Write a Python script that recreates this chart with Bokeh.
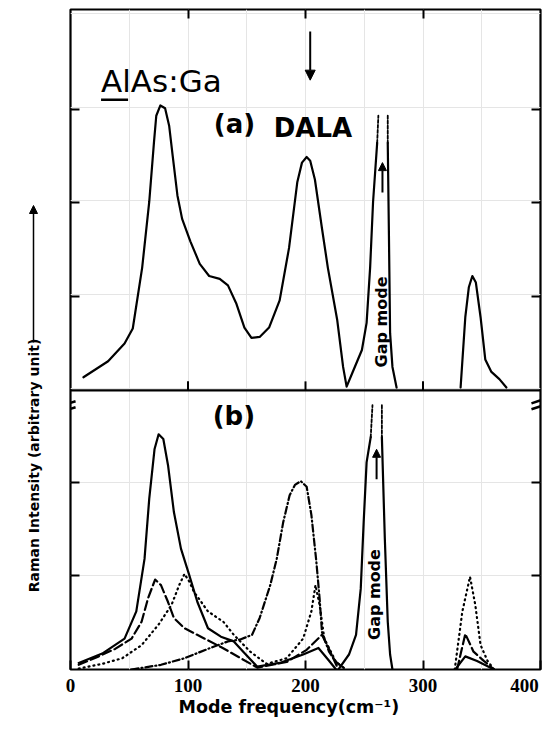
from math import pi
from bokeh.plotting import figure
from bokeh.layouts import row, column
from bokeh.models import Range1d, FixedTicker, LinearAxis, Label, Arrow, NormalHead, Span
from bokeh.embed import file_html
from bokeh.resources import INLINE

FONT = "DejaVu Sans"
TICK_FONT = "Liberation Sans Narrow"

# ---------------- data ----------------
x_ticks = [100, 200, 300]
x_label_ticks = [0, 100, 200, 300, 400]
x_tick_labels = ["0", "100", "200", "300", "400"]
a_y_ticks = [1, 2, 3]
b_y_ticks = [1, 2]

# panel (a) solid spectrum
a_main_x = [11, 32, 46, 53, 61, 67, 71, 73, 76.5, 80.5, 84, 87, 91, 95, 102, 110, 118, 127, 134,
            141, 148, 154, 161, 169, 178, 186, 193, 197, 201, 204, 208, 214, 219, 227, 232, 235,
            240, 248, 252, 255, 257.5, 261]
a_main_y = [0.14, 0.31, 0.50, 0.66, 1.31, 2.01, 2.64, 2.93, 3.04, 3.01, 2.82, 2.50, 2.08, 1.83, 1.59,
            1.35, 1.22, 1.19, 1.12, 0.93, 0.67, 0.56, 0.57, 0.67, 0.96, 1.52, 2.22, 2.43, 2.49, 2.45,
            2.25, 1.73, 1.31, 0.75, 0.25, 0.04, 0.19, 0.43, 0.72, 1.31, 2.01, 2.64]
a_gap_right_x = [270, 271, 272, 274, 277.5]
a_gap_right_y = [2.64, 1.66, 0.61, 0.25, 0.03]
a_gap_tip_left_x = [261, 262]
a_gap_tip_left_y = [2.64, 2.93]
a_gap_tip_right_x = [270, 270]
a_gap_tip_right_y = [2.93, 2.64]
a_last_x = [332, 336, 339, 342, 345, 349, 353, 358, 365, 371]
a_last_y = [0.03, 0.78, 1.10, 1.22, 1.15, 0.78, 0.33, 0.20, 0.12, 0.03]

# panel (b) solid
b_solid_x = [7, 27, 46, 56, 63, 67, 71.5, 75, 79, 83, 88, 94, 101, 108, 117, 128, 139, 147, 159,
             178, 198, 211, 219, 226]
b_solid_y = [0.07, 0.17, 0.33, 0.62, 1.18, 1.82, 2.35, 2.51, 2.46, 2.18, 1.68, 1.29, 1.01, 0.72,
             0.44, 0.35, 0.30, 0.19, 0.03, 0.07, 0.16, 0.23, 0.11, 0.0]
b_gap_left_x = [228.5, 237, 243, 247, 249.5, 252, 255.5]
b_gap_left_y = [0.01, 0.16, 0.37, 0.86, 1.57, 2.21, 2.48]
b_gap_right_x = [265, 267.5, 270, 272, 274]
b_gap_right_y = [2.48, 1.40, 0.51, 0.16, 0.0]
b_gap_tip_left_x = [255.5, 257]
b_gap_tip_left_y = [2.48, 2.82]
b_gap_tip_right_x = [265, 265]
b_gap_tip_right_y = [2.82, 2.48]
b_solid_last_x = [328, 336, 346, 360.5]
b_solid_last_y = [0.01, 0.14, 0.09, 0.0]

# panel (b) dashed
b_dash_x = [7, 24, 38, 52, 60.5, 66, 72, 77, 83, 88, 97, 111, 128, 145, 159, 184, 201, 214, 220, 228]
b_dash_y = [0.05, 0.14, 0.22, 0.33, 0.51, 0.76, 0.96, 0.90, 0.72, 0.55, 0.44, 0.35, 0.24, 0.12,
            0.02, 0.08, 0.21, 0.37, 0.22, 0.0]
b_dash_last_x = [329, 336, 343, 352, 360.5]
b_dash_last_y = [0.0, 0.38, 0.19, 0.09, 0.0]

# panel (b) dotted
b_dot_x = [7, 27, 44, 60.5, 75, 86, 92.5, 97, 101, 105, 117, 130, 139, 153, 167, 184, 198, 205,
           208.5, 212, 216, 226, 234.5]
b_dot_y = [0.01, 0.06, 0.12, 0.26, 0.48, 0.69, 0.90, 1.02, 0.94, 0.83, 0.62, 0.51, 0.37, 0.19,
           0.06, 0.12, 0.33, 0.62, 0.90, 0.69, 0.33, 0.08, 0.0]
b_dot_last_x = [327, 333.5, 340, 344.5, 349, 355, 360.5]
b_dot_last_y = [0.0, 0.62, 0.99, 0.69, 0.26, 0.09, 0.0]

# panel (b) dash-dot
b_dd_x = [52, 77, 97, 117, 134, 144.5, 154.5, 161, 170, 175.5, 181, 186.5, 191, 196, 201, 205,
          209, 212, 214, 220, 226, 234.5]
b_dd_y = [0.0, 0.05, 0.12, 0.22, 0.30, 0.32, 0.37, 0.55, 0.90, 1.18, 1.57, 1.86, 1.97, 2.01, 1.95,
          1.65, 1.18, 0.76, 0.40, 0.19, 0.08, 0.0]

# ---------------- layout constants ----------------
B_TOP = 2.979   # height of panel (b) in intensity units
A_TOP = 4.064   # height of panel (a) in intensity units
LW = 2.2
TICK_LEN = 9
TICK_UNITS = TICK_LEN / 94.0


def add_axis(p, place, ticks, labels=None):
    ax = LinearAxis(ticker=FixedTicker(ticks=ticks))
    ax.axis_line_color = None
    ax.major_tick_in = TICK_LEN
    ax.major_tick_out = 0
    ax.major_tick_line_width = 2
    ax.major_tick_line_color = "black"
    ax.minor_tick_in = 0
    ax.minor_tick_out = 0
    if labels is None:
        ax.major_label_overrides = {t: "" for t in ticks}
        ax.major_label_standoff = 0
    else:
        ax.major_label_overrides = labels
        ax.major_label_text_font = TICK_FONT
        ax.major_label_text_font_style = "bold"
        ax.major_label_text_font_size = "19px"
        ax.major_label_text_color = "black"
        ax.major_label_standoff = 5
    p.add_layout(ax, place)
    return ax


def curve(fig, xs, ys, dash="solid", width=LW, rng="default"):
    fig.line(xs, ys, y_range_name=rng, line_color="black", line_width=width,
             line_dash=dash, line_join="round", line_cap="round")


# ---------------- main figure (both panels) ----------------
p = figure(width=483, height=698, x_range=Range1d(0, 400), y_range=Range1d(0, B_TOP + A_TOP),
           x_axis_location=None, y_axis_location=None,
           min_border_top=9, min_border_bottom=27, min_border_left=10, min_border_right=3,
           output_backend="svg", toolbar_location=None)
p.extra_y_ranges = {"a": Range1d(-B_TOP, A_TOP)}
p.outline_line_color = "black"
p.outline_line_width = LW
p.background_fill_color = "white"
p.border_fill_color = "white"

y_tick_pos = b_y_ticks + [B_TOP + t for t in a_y_ticks]
add_axis(p, "above", x_ticks)
tick_labels = dict(zip(x_label_ticks, x_tick_labels))
tick_labels[400] = "400" + "\u00a0"
add_axis(p, "below", x_label_ticks, tick_labels)
add_axis(p, "left", y_tick_pos)
add_axis(p, "right", y_tick_pos)

# panel separator with its inward x ticks (pointing up into panel a)
p.add_layout(Span(location=0, dimension="width", y_range_name="a",
                  line_color="black", line_width=LW))
p.segment(x0=x_ticks, y0=[0] * len(x_ticks), x1=x_ticks, y1=[TICK_UNITS] * len(x_ticks),
          y_range_name="a", line_color="black", line_width=2)

# panel (a)
curve(p, a_main_x, a_main_y, rng="a")
curve(p, a_gap_right_x, a_gap_right_y, rng="a")
curve(p, a_gap_tip_left_x, a_gap_tip_left_y, dash="3 2", width=1.8, rng="a")
curve(p, a_gap_tip_right_x, a_gap_tip_right_y, dash="3 2", width=1.8, rng="a")
curve(p, a_last_x, a_last_y, rng="a")

p.add_layout(Label(x=26, y=3.30, y_range_name="a", text="AlAs:Ga", text_font=FONT,
                   text_font_size="31px", text_color="black", text_baseline="middle"))
p.segment(x0=[26], y0=[3.10], x1=[49], y1=[3.10], y_range_name="a",
          line_color="black", line_width=2.5)
p.add_layout(Label(x=122, y=2.84, y_range_name="a", text="(a)", text_font=FONT,
                   text_font_size="26px", text_font_style="bold", text_color="black",
                   text_baseline="middle"))
p.add_layout(Label(x=173, y=2.80, y_range_name="a", text="DALA", text_font=FONT,
                   text_font_size="26px", text_font_style="bold", text_color="black",
                   text_baseline="middle"))
p.add_layout(Label(x=265, y=0.73, y_range_name="a", text="Gap mode", angle=pi / 2,
                   text_font=FONT, text_font_size="16px", text_font_style="bold",
                   text_color="black", text_align="center", text_baseline="middle"))
p.add_layout(Arrow(x_start=204, y_start=3.83, x_end=204, y_end=3.31, y_range_name="a",
                   line_width=2, end=NormalHead(size=10, fill_color="black", line_color="black")))
p.add_layout(Arrow(x_start=265.5, y_start=2.11, x_end=265.5, y_end=2.43, y_range_name="a",
                   line_width=2, end=NormalHead(size=8, fill_color="black", line_color="black")))

# panel (b)
curve(p, b_solid_x, b_solid_y)
curve(p, b_gap_left_x, b_gap_left_y)
curve(p, b_gap_right_x, b_gap_right_y)
curve(p, b_gap_tip_left_x, b_gap_tip_left_y, dash="3 2", width=1.8)
curve(p, b_gap_tip_right_x, b_gap_tip_right_y, dash="3 2", width=1.8)
curve(p, b_solid_last_x, b_solid_last_y)

curve(p, b_dash_x, b_dash_y, dash="9 4")
curve(p, b_dash_last_x, b_dash_last_y, dash="9 4")
curve(p, b_dot_x, b_dot_y, dash="1 4")
curve(p, b_dot_last_x, b_dot_last_y, dash="1 4")
curve(p, b_dd_x, b_dd_y, dash="7 3 1 3")

p.add_layout(Label(x=121, y=2.70, text="(b)", text_font=FONT, text_font_size="26px",
                   text_font_style="bold", text_color="black", text_baseline="middle"))
p.add_layout(Label(x=258.5, y=0.80, text="Gap mode", angle=pi / 2, text_font=FONT,
                   text_font_size="16px", text_font_style="bold", text_color="black",
                   text_align="center", text_baseline="middle"))
p.add_layout(Arrow(x_start=260.5, y_start=2.03, x_end=260.5, y_end=2.35, line_width=2,
                   end=NormalHead(size=8, fill_color="black", line_color="black")))

# axis-break marks on both side frames, just below the separator
for (x0, x1, y0, y1) in [(-6.8, 4.3, 2.819, 2.862), (-6.8, 4.3, 2.755, 2.798),
                         (392.3, 402.6, 2.840, 2.883), (392.3, 402.6, 2.777, 2.819)]:
    p.add_layout(Arrow(x_start=x0, y_start=y0, x_end=x1, y_end=y1, end=None,
                       line_width=2.5, line_color="black"))

# ---------------- x label strip (canvas coordinates) ----------------
xlab = figure(width=483, height=20, x_range=Range1d(60, 543), y_range=Range1d(718, 698),
              x_axis_location=None, y_axis_location=None, min_border=0,
              output_backend="svg", toolbar_location=None)
xlab.outline_line_color = None
xlab.grid.visible = False
xlab.add_layout(Label(x=171, y=706.5, text="Mode frequency(cm\u207b\u00b9)", text_font=FONT,
                      text_font_size="17.5px", text_font_style="bold", text_color="black",
                      text_baseline="middle"))

# ---------------- y label strip (canvas coordinates) ----------------
lab = figure(width=60, height=718, x_range=Range1d(0, 60), y_range=Range1d(718, 0),
             x_axis_location=None, y_axis_location=None, min_border=0,
             output_backend="svg", toolbar_location=None)
lab.outline_line_color = None
lab.grid.visible = False
lab.add_layout(Label(x=33, y=465, text="Raman Intensity (arbitrary unit)", angle=pi / 2,
                     text_font=FONT, text_font_size="14px", text_font_style="bold",
                     text_color="black", text_align="center", text_baseline="middle"))
lab.add_layout(Arrow(x_start=33, y_start=342, x_end=33, y_end=205, line_width=1.5,
                     end=NormalHead(size=8, fill_color="black", line_color="black")))

layout = row(lab, column(p, xlab))
open("out.html", "w").write(file_html(layout, INLINE))
